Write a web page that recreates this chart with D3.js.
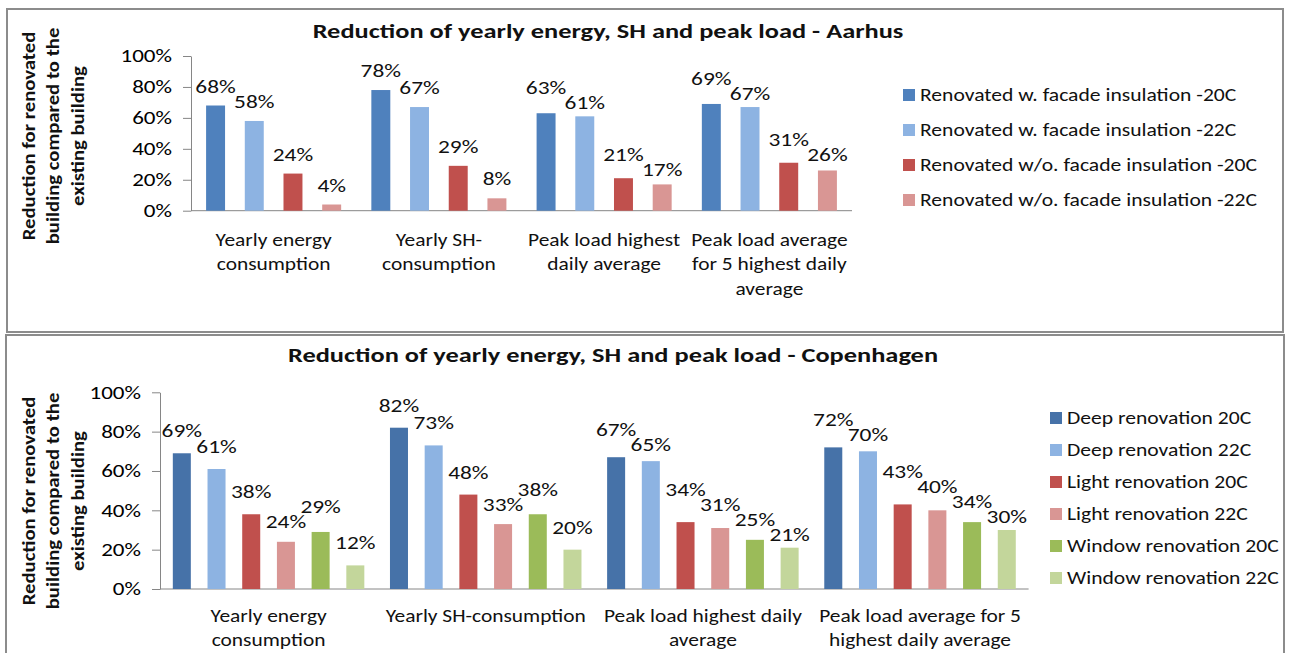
<!DOCTYPE html>
<html>
<head>
<meta charset="utf-8">
<script src="https://cdn.jsdelivr.net/npm/d3@7"></script>
<style>
  html, body { margin: 0; padding: 0; background: #fff; }
  svg { display: block; font-family: Carlito, Lato, sans-serif; }
</style>
</head>
<body>
<svg id="chart" width="1289" height="653"></svg>
<script>
// ---------------- DATA ----------------
const yTicks = [0, 20, 40, 60, 80, 100];
const yAxisTitle = ["Reduction for renovated", "building compared to the", "existing building"];

// Aarhus
const titleAarhus = "Reduction of yearly energy, SH and peak load - Aarhus";
const categoriesAarhus = [
  "Yearly energy\nconsumption",
  "Yearly SH-\nconsumption",
  "Peak load highest\ndaily average",
  "Peak load average\nfor 5 highest daily\naverage"
];
const seriesAarhus = [
  "Renovated w. facade insulation -20C",
  "Renovated w. facade insulation -22C",
  "Renovated w/o. facade insulation -20C",
  "Renovated w/o. facade insulation -22C"
];
const valuesAarhus = [
  [68, 78, 63, 69],
  [58, 67, 61, 67],
  [24, 29, 21, 31],
  [4, 8, 17, 26]
];

// Copenhagen
const titleCph = "Reduction of yearly energy, SH and peak load - Copenhagen";
const categoriesCph = [
  "Yearly energy\nconsumption",
  "Yearly SH-consumption",
  "Peak load highest daily\naverage",
  "Peak load average for 5\nhighest daily average"
];
const seriesCph = [
  "Deep renovation 20C",
  "Deep renovation 22C",
  "Light renovation 20C",
  "Light renovation 22C",
  "Window renovation 20C",
  "Window renovation 22C"
];
const valuesCph = [
  [69, 82, 67, 72],
  [61, 73, 65, 70],
  [38, 48, 34, 43],
  [24, 33, 31, 40],
  [29, 38, 25, 34],
  [12, 20, 21, 30]
];

// ---------------- STYLE ----------------
const colorsAarhus = ["#4F81BD", "#8DB3E2", "#C0504D", "#D99694"];
const colorsCph = ["#4672A8", "#8DB3E2", "#C0504D", "#D99694", "#9BBB59", "#C3D69B"];
const FONT = "Carlito, Lato, sans-serif";
const SX_TITLE = 1.32, SX_TICK = 1.28, SX_LABEL = 1.3, SX_LEGEND = 1.2, SX_CAT = 1.19, SX_YT = 1.15;

const svg = d3.select("#chart");
svg.append("rect").attr("width", 1289).attr("height", 653).attr("fill", "#fff");

function stretched(parent, x, y, sx) {
  return parent.append("text")
    .attr("transform", `translate(${x},${y}) scale(${sx},1)`)
    .attr("font-family", FONT);
}

function drawChart(cfg) {
  const g = svg.append("g");
  // frame
  g.append("rect")
    .attr("x", cfg.frame[0]).attr("y", cfg.frame[1])
    .attr("width", cfg.frame[2]).attr("height", cfg.frame[3])
    .attr("fill", "#fff").attr("stroke", "#8c8c8c").attr("stroke-width", 2);

  // title
  stretched(g, cfg.titleX, cfg.titleY, SX_TITLE)
    .attr("text-anchor", "middle")
    .attr("font-size", cfg.titleSize).attr("font-weight", "bold").attr("fill", "#111")
    .text(cfg.title);

  const x = d3.scaleBand().domain(cfg.categories).range(cfg.xRange).paddingInner(0).paddingOuter(0);
  const innerW = cfg.innerStep * (cfg.series.length - cfg.innerPad);
  const off = (x.bandwidth() - innerW) / 2;
  const xi = d3.scaleBand().domain(d3.range(cfg.series.length)).range([off, off + innerW])
    .paddingInner(cfg.innerPad).paddingOuter(0);
  const y = d3.scaleLinear().domain([0, 100]).range(cfg.yRange);

  // y axis
  const ya = g.append("g")
    .attr("transform", `translate(${cfg.xRange[0]},0)`)
    .call(d3.axisLeft(y).tickValues(yTicks).tickFormat(d => d + "%")
      .tickSize(8).tickSizeOuter(0).tickPadding(10));
  ya.select(".domain").attr("stroke", "#868686");
  ya.selectAll(".tick line").attr("stroke", "#868686");
  ya.selectAll(".tick text")
    .attr("x", 0)
    .attr("transform", `translate(-19,0) scale(${SX_TICK},1)`)
    .attr("font-size", cfg.fontSize).attr("fill", "#000")
    .attr("font-family", FONT);

  // x axis baseline
  g.append("line")
    .attr("x1", cfg.xRange[0]).attr("x2", cfg.xRange[1])
    .attr("y1", y(0)).attr("y2", y(0))
    .attr("stroke", "#868686").attr("stroke-width", 1);

  // bars
  cfg.series.forEach((s, si) => {
    g.append("g").selectAll("rect").data(cfg.values[si]).join("rect")
      .attr("x", (d, ci) => x(cfg.categories[ci]) + xi(si))
      .attr("y", d => y(d))
      .attr("width", xi.bandwidth())
      .attr("height", d => y(0) - y(d))
      .attr("fill", cfg.colors[si]);
  });

  // data labels, separated vertically when neighbours collide
  const lblG = g.append("g");
  cfg.categories.forEach((c, ci) => {
    const labels = cfg.series.map((s, si) => {
      const d = cfg.values[si][ci];
      const cx = x(c) + xi(si) + xi.bandwidth() / 2;
      const t = lblG.append("text")
        .attr("text-anchor", "middle")
        .attr("font-size", cfg.fontSize).attr("fill", "#111")
        .attr("font-family", FONT)
        .text(d + "%");
      const w = t.node().getComputedTextLength() * SX_LABEL;
      return { t, cx, w, b: y(d) - cfg.labelGap, maxB: y(d) - 4 };
    });
    const H = 15;
    for (let pass = 0; pass < 20; pass++) {
      for (let i = 0; i < labels.length - 1; i++) {
        const a = labels[i], bb = labels[i + 1];
        const hOverlap = Math.abs(a.cx - bb.cx) < (a.w + bb.w) / 2 + 3;
        const diff = Math.abs(a.b - bb.b);
        if (hOverlap && diff < H) {
          const need = H - diff;
          const upper = a.b <= bb.b ? a : bb;
          const lower = upper === a ? bb : a;
          const down = Math.min(need / 2, lower.maxB - lower.b);
          lower.b += Math.max(0, down);
          upper.b -= need - Math.max(0, down);
        }
      }
    }
    labels.forEach(l => l.t.attr("transform", `translate(${l.cx},${l.b}) scale(${SX_LABEL},1)`));
  });

  // category labels
  cfg.categories.forEach(c => {
    const t = stretched(g, x(c) + x.bandwidth() / 2, cfg.catY, SX_CAT)
      .attr("text-anchor", "middle")
      .attr("font-size", cfg.fontSize).attr("fill", "#111");
    c.split("\n").forEach((line, li) => {
      t.append("tspan").attr("x", 0).attr("y", li * cfg.lineH).text(line);
    });
  });

  // y axis title
  const yt = g.append("text")
    .attr("transform", `translate(0,${cfg.yTitleCY}) rotate(-90) scale(${SX_YT},1)`)
    .attr("text-anchor", "middle").attr("font-family", FONT)
    .attr("font-size", cfg.yTitleSize).attr("font-weight", "bold").attr("fill", "#111");
  yAxisTitle.forEach((line, li) => {
    yt.append("tspan").attr("x", 0).attr("y", cfg.yTitleX0 + li * cfg.yTitleLH).text(line);
  });

  // legend
  const lg = g.append("g");
  cfg.series.forEach((s, si) => {
    const cy = cfg.legendY0 + si * cfg.legendStep;
    lg.append("rect")
      .attr("x", cfg.legendX).attr("y", cy - 6)
      .attr("width", 12).attr("height", 12)
      .attr("fill", cfg.colors[si]);
    stretched(lg, cfg.legendX + 17, cy, SX_LEGEND)
      .attr("dy", "0.36em")
      .attr("font-size", cfg.fontSize).attr("fill", "#111")
      .text(s);
  });
}

drawChart({
  frame: [7, 9, 1276, 323],
  title: titleAarhus, titleX: 608, titleY: 38, titleSize: 20,
  categories: categoriesAarhus, series: seriesAarhus, values: valuesAarhus, colors: colorsAarhus,
  xRange: [191, 852], yRange: [210.7, 56],
  innerStep: 38.7, innerPad: 0.51,
  fontSize: 18, labelGap: 13,
  catY: 246, lineH: 24.5,
  yTitleCY: 136, yTitleX0: 35, yTitleLH: 24.5, yTitleSize: 18,
  legendX: 903, legendY0: 95, legendStep: 35
});

drawChart({
  frame: [6, 335, 1278, 330],
  title: titleCph, titleX: 613, titleY: 362, titleSize: 20,
  categories: categoriesCph, series: seriesCph, values: valuesCph, colors: colorsCph,
  xRange: [160, 1028.6], yRange: [589, 392.3],
  innerStep: 34.7, innerPad: 0.481,
  fontSize: 18, labelGap: 16,
  catY: 622, lineH: 24.5,
  yTitleCY: 501, yTitleX0: 35, yTitleLH: 24.5, yTitleSize: 18,
  legendX: 1050, legendY0: 418, legendStep: 32
});
</script>
</body>
</html>
